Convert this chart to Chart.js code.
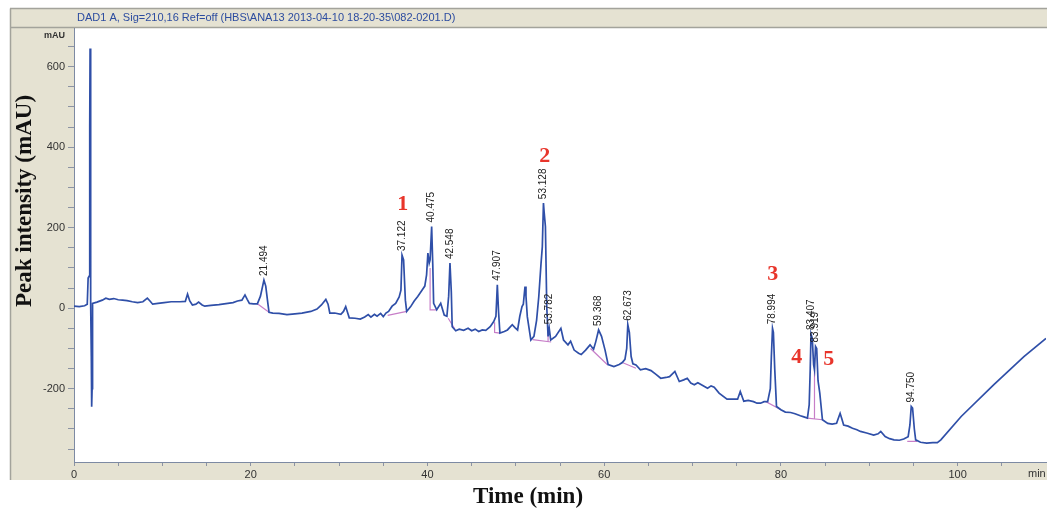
<!DOCTYPE html>
<html>
<head>
<meta charset="utf-8">
<title>DAD1 A chromatogram</title>
<script src="https://cdn.jsdelivr.net/npm/chart.js@4.4.1/dist/chart.umd.min.js"></script>
<style>
    html, body { margin: 0; padding: 0; background: #fff; }
    canvas { display: block; }
</style>
</head>
<body>
<canvas id="chrom" width="1047" height="510"></canvas>
<script>
// retention time (min) and signal (mAU)
const retention = [
    0, 0.6, 1.2, 1.5, 1.6, 1.72, 1.78, 1.82, 1.86, 1.88,
    1.92, 1.96, 2.0, 2.05, 2.08, 2.12, 2.6, 3.2, 3.6, 4.0,
    4.5, 5.0, 5.5, 6.0, 6.6, 7.2, 7.8, 8.3, 8.6, 8.9,
    9.5, 10.2, 11.0, 12.0, 12.6, 12.85, 13.1, 13.4, 13.8, 14.1,
    14.5, 14.8, 15.5, 16.4, 17.4, 18.0, 18.5, 19.0, 19.35, 19.6,
    19.85, 20.3, 20.75, 21.1, 21.494, 21.7, 21.95, 22.07, 22.5, 23.2,
    24.1, 25.0, 25.8, 26.8, 27.5, 28.0, 28.5, 28.75, 28.95, 29.5,
    30.2, 30.5, 30.75, 30.95, 31.15, 31.8, 32.4, 32.9, 33.3, 33.6,
    34.0, 34.3, 34.7, 35.0, 35.3, 35.6, 36.0, 36.4, 36.8, 37.0,
    37.122, 37.3, 37.5, 37.65, 38.1, 38.5, 38.9, 39.4, 39.7, 39.9,
    40.05, 40.2, 40.3, 40.475, 40.6, 40.7, 41.05, 41.5, 41.9, 42.2,
    42.4, 42.548, 42.7, 42.8, 43.2, 43.6, 44.1, 44.6, 45.0, 45.4,
    45.8, 46.2, 46.6, 47.1, 47.5, 47.75, 47.907, 48.05, 48.2, 48.7,
    49.05, 49.6, 49.9, 50.2, 50.45, 50.7, 50.85, 51.04, 51.15, 51.3,
    51.7, 52.05, 52.35, 52.6, 52.85, 53.0, 53.128, 53.2, 53.35, 53.5,
    53.65, 53.782, 53.95, 54.5, 55.1, 55.4, 55.9, 56.2, 56.6, 57.1,
    57.4, 57.9, 58.4, 58.8, 59.05, 59.368, 59.7, 60.1, 60.45, 61.1,
    61.7, 62.05, 62.35, 62.55, 62.673, 62.85, 63.05, 63.25, 63.6, 64.1,
    64.7, 65.3, 65.9, 66.4, 67.0, 67.4, 68.0, 68.5, 69.0, 69.4,
    69.8, 70.2, 70.6, 71.0, 71.4, 71.7, 72.1, 72.45, 73.0, 73.9,
    74.5, 75.1, 75.4, 75.8, 76.3, 76.9, 77.3, 77.7, 78.1, 78.5,
    78.8, 78.92, 79.05, 79.15, 79.3, 79.5, 80.0, 80.5, 81.1, 81.6,
    82.2, 82.6, 83.0, 83.2, 83.32, 83.407, 83.55, 83.7, 83.8, 83.919,
    84.05, 84.2, 84.4, 84.7, 85.3, 85.8, 86.3, 86.55, 86.7, 86.9,
    87.1, 87.6, 88.1, 88.6, 89.0, 89.7, 90.5, 91.0, 91.3, 91.8,
    92.3, 92.8, 93.4, 93.9, 94.4, 94.6, 94.75, 94.9, 95.1, 95.25,
    95.8, 96.5, 97.2, 97.7, 98.1, 100.4, 104.1, 107.5, 110
];
const absorbance = [
    5, 4, 6, 10, 75, 80, 450, 645, 600, 150,
    10, -120, -245, -200, 0, 12, 15, 20, 25, 22,
    24, 21, 20, 19, 16, 14, 16, 25, 18, 10,
    12, 14, 16, 16, 17, 35, 18, 8, 10, 15,
    8, 5, 7, 9, 12, 14, 18, 20, 33, 22,
    12, 11, 11, 30, 70, 55, 10, -10, -12, -13,
    -16, -14, -12, -8, -2, 8, 22, 10, -12, -12,
    -15, -8, 4, -10, -24, -25, -27, -22, -16, -22,
    -15, -20, -13, -21, -12, -8, 5, 12, 28, 45,
    132, 120, 20, -8, 4, 18, 29, 45, 55, 83,
    137, 112, 120, 203, 110, 12, -4, 12, -17, -20,
    30, 112, 40, -46, -56, -52, -55, -50, -56, -52,
    -58, -54, -55, -46, -33, -20, 58, -10, -62, -58,
    -54, -41, -48, -54, -20, 4, 10, 54, 30, -21,
    -79, -70, -30, 29, 110, 153, 261, 240, 203, 4,
    -70, -50, -79, -70, -50, -79, -91, -82, -104, -112,
    -115, -104, -91, -102, -83, -54, -70, -104, -140, -145,
    -140, -135, -127, -100, -41, -60, -120, -138, -141, -153,
    -150, -155, -165, -174, -172, -170, -157, -182, -178, -174,
    -186, -190, -185, -190, -195, -199, -193, -196, -211, -226,
    -226, -226, -207, -231, -229, -232, -236, -236, -232, -232,
    -200, -120, -50, -60, -150, -244, -252, -258, -259, -262,
    -267, -270, -273, -240, -150, -64, -75, -140, -153, -95,
    -100, -180, -211, -277, -286, -288, -286, -270, -261, -275,
    -290, -293, -298, -302, -306, -310, -315, -312, -306, -319,
    -324, -327, -328, -325, -319, -290, -244, -248, -300, -327,
    -333, -335, -334, -334, -327, -269, -190, -120, -75
];

// integration baselines (null = gap between segments)
const baseRetention = [
    20.75, 22.07, 22.07,
    35.5, 37.65, 37.65,
    40.3, 40.3, 41.05, 41.05,
    42.35, 43.1, 43.1,
    47.6, 47.6, 48.2, 48.2,
    51.9, 54.0, 54.0,
    53.65, 53.65, 53.65,
    58.45, 60.4, 60.4,
    62.05, 63.6, 63.6,
    78.3, 80.0, 80.0,
    83.0, 84.7, 84.7,
    83.8, 83.8, 83.8,
    94.3, 95.4
];
const baseAbsorbance = [
    11, -10, null,
    -18, -8, null,
    100, -4, -4, null,
    -25, -52, null,
    -35, -60, -62, null,
    -78, -84, null,
    -50, -82, null,
    -100, -141, null,
    -135, -149, null,
    -232, -252, null,
    -273, -277, null,
    -153, -275, null,
    -331, -331
];

const peakLabels = ["21.494", "37.122", "40.475", "42.548", "47.907", "53.128", "53.782",
    "59.368", "62.673", "78.994", "83.407", "83.919", "94.750"];

const compoundNumbers = ["1", "2", "3", "4", "5"];
const compoundTime = [37.2, 53.28, 79.07, 81.8, 85.4];
const compoundMAU = [258, 378, 83, -121, -128];

const xTicks = [0, 5, 10, 15, 20, 25, 30, 35, 40, 45, 50, 55, 60, 65, 70, 75, 80, 85, 90, 95, 100, 105];
const yTicks = [-350, -300, -250, -200, -150, -100, -50, 0, 50, 100, 150, 200, 250, 300, 350, 400, 450, 500, 550, 600, 650];

const headerText = "DAD1 A, Sig=210,16 Ref=off (HBS\\ANA13 2013-04-10 18-20-35\\082-0201.D)";

const SANS = "'Liberation Sans', Arial, sans-serif";
const SERIF = "'Liberation Serif', 'Times New Roman', serif";
const PANEL = "#e5e2d2";

Chart.defaults.font.family = SANS;

const framePlugin = {
    id: "frame",
    beforeDraw(chart) {
        const ctx = chart.ctx;
        const a = chart.chartArea;
        ctx.save();
        ctx.fillStyle = "#fff";
        ctx.fillRect(0, 0, chart.width, chart.height);
        ctx.fillStyle = PANEL;
        ctx.fillRect(10, 9, chart.width - 10, 19);
        ctx.fillRect(10, 28, a.left - 10, 452);
        ctx.fillRect(10, a.bottom, chart.width - 10, 480 - a.bottom);

        ctx.strokeStyle = "#a3a39b";
        ctx.lineWidth = 1.5;
        ctx.beginPath();
        ctx.moveTo(10, 8.5); ctx.lineTo(chart.width, 8.5);
        ctx.moveTo(10, 27.5); ctx.lineTo(chart.width, 27.5);
        ctx.moveTo(10.5, 8.5); ctx.lineTo(10.5, 480);
        ctx.stroke();

        ctx.fillStyle = "#2c4ca0";
        ctx.font = "11px " + SANS;
        ctx.textAlign = "left";
        ctx.textBaseline = "middle";
        ctx.fillText(headerText, 77, 17.5);

        ctx.fillStyle = "#333";
        ctx.font = "bold 9px " + SANS;
        ctx.textAlign = "right";
        ctx.fillText("mAU", 65, 35.5);
        ctx.font = "11px " + SANS;
        ctx.textAlign = "left";
        ctx.fillText("min", 1028, 474);

        ctx.fillStyle = "#111";
        ctx.font = "bold 23px " + SERIF;
        ctx.textAlign = "center";
        ctx.fillText("Time (min)", 528, 497);
        ctx.save();
        ctx.translate(25, 201);
        ctx.rotate(-Math.PI / 2);
        ctx.fillText("Peak intensity (mAU)", 0, 0);
        ctx.restore();
        ctx.restore();
    },
    afterDatasetsDraw(chart) {
        const ctx = chart.ctx;
        const xs = chart.scales.x;
        const ys = chart.scales.y;
        ctx.save();
        ctx.fillStyle = "#222";
        ctx.font = "10px " + SANS;
        ctx.textAlign = "left";
        ctx.textBaseline = "middle";
        peakLabels.forEach(label => {
            const t = parseFloat(label);
            let top = -Infinity;
            retention.forEach((r, i) => {
                if (Math.abs(r - t) <= 0.15) top = Math.max(top, absorbance[i]);
            });
            ctx.save();
            ctx.translate(xs.getPixelForValue(t), ys.getPixelForValue(top) - 4);
            ctx.rotate(-Math.PI / 2);
            ctx.fillText(label, 0, 0);
            ctx.restore();
        });

        ctx.fillStyle = "#e8352b";
        ctx.font = "bold 22px " + SERIF;
        ctx.textAlign = "center";
        compoundNumbers.forEach((n, i) => {
            ctx.fillText(n, xs.getPixelForValue(compoundTime[i]), ys.getPixelForValue(compoundMAU[i]));
        });
        ctx.restore();
    }
};

new Chart(document.getElementById("chrom"), {
    type: "line",
    data: {
        datasets: [{
            data: retention.map((t, i) => ({ x: t, y: absorbance[i] })),
            borderColor: "#2f4fa8",
            borderWidth: 1.7,
            pointRadius: 0,
            tension: 0,
            order: 1
        }, {
            data: baseRetention.map((t, i) => ({ x: t, y: baseAbsorbance[i] })),
            borderColor: "#c77ec8",
            borderWidth: 1.2,
            pointRadius: 0,
            tension: 0,
            spanGaps: false,
            order: 2
        }]
    },
    options: {
        responsive: false,
        animation: false,
        devicePixelRatio: 1,
        events: [],
        layout: { padding: { left: 0, right: 1, top: 28, bottom: 0 } },
        plugins: { legend: { display: false }, tooltip: { enabled: false } },
        scales: {
            x: {
                type: "linear",
                min: 0,
                max: 110,
                afterBuildTicks: s => { s.ticks = xTicks.map(v => ({ value: v })); },
                afterFit: s => { s.height = 48; },
                ticks: {
                    autoSkip: false,
                    maxRotation: 0,
                    padding: 2,
                    color: "#333",
                    font: { size: 11 },
                    callback: v => (v % 20 === 0 ? String(v) : "")
                },
                grid: { drawOnChartArea: false, tickLength: 4, color: "#8c93a3" },
                border: { display: true, color: "#7d8aa3", width: 1 }
            },
            y: {
                type: "linear",
                min: -382,
                max: 696,
                afterBuildTicks: s => { s.ticks = yTicks.map(v => ({ value: v })); },
                afterFit: s => { s.width = 74; },
                ticks: {
                    padding: 3,
                    color: "#333",
                    font: { size: 11 },
                    callback: v => (v % 200 === 0 ? String(v) : "")
                },
                grid: { drawOnChartArea: false, tickLength: 6, color: "#8c93a3" },
                border: { display: true, color: "#7d8aa3", width: 1 }
            }
        }
    },
    plugins: [framePlugin]
});
</script>
</body>
</html>
